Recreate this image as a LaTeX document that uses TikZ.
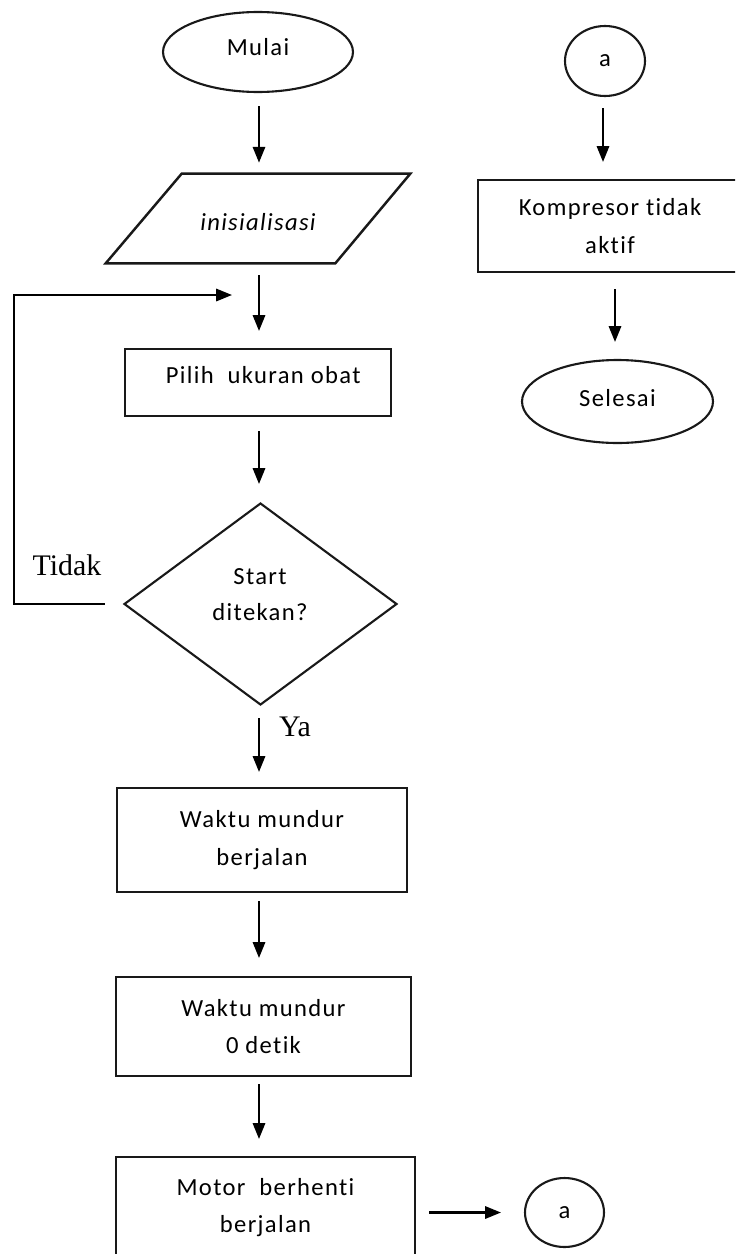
\documentclass[tikz,border=0pt]{standalone}
\usepackage{fontspec}
\setmainfont{Carlito}[LetterSpace=5.5, Ligatures=NoCommon]
\newfontfamily\labelserif{Liberation Serif}
\usetikzlibrary{shapes.geometric,arrows.meta,calc}
\begin{document}
\begin{tikzpicture}[x=0.02cm,y=-0.02cm,
  every node/.style={font=\fontsize{14}{21.5}\selectfont, text=black},
  shapeline/.style={draw=black!90, line width=1.2pt},
  boxnode/.style={shapeline, rectangle, inner sep=0pt, align=center},
  termnode/.style={shapeline, ellipse, inner sep=0pt},
  conn/.style={draw=black, line width=1.2pt, -{Triangle[length=9pt,width=7pt]}},
  lbl/.style={font=\labelserif\fontsize{17}{20}\selectfont, text=black}]
\useasboundingbox (0,0) rectangle (735,1254);
\clip (0,0) rectangle (735,1254);

% helper coordinates for connector columns
\coordinate (col) at (259,0);
\coordinate (colR1) at (603,0);
\coordinate (colR2) at (615,0);
\coordinate (loopx) at (14,0);
\coordinate (loopend) at (232,295);

% left column
\node[termnode, minimum width=3.8cm, minimum height=1.6cm] (mulai) at (258,52)
  {\raisebox{2.8pt}[\height][\depth]{Mulai}};
\node[inner sep=0pt, minimum width=6.08cm, minimum height=1.78cm] (init) at (258,218.5)
  {\raisebox{-2pt}[\height][\depth]{\itshape inisialisasi}};
\draw[shapeline, line width=1.4pt, line join=miter]
  ($(init.north west)+(76,0)$) -- (init.north east) -- ($(init.south east)+(-75,0)$)
  -- (init.south west) -- cycle;
\node[boxnode, minimum width=5.32cm, minimum height=1.34cm] (pilih) at (258,382.5)
  {\hspace*{6pt}\raisebox{4.25pt}[\height][\depth]{Pilih\ \ ukuran obat}};
\node[shapeline, diamond, inner sep=0pt, minimum width=5.46cm, minimum height=4.04cm] (dec) at (260.5,604) {};
\node[align=center, inner sep=0pt, font=\fontsize{14}{20.4}\selectfont] (decT) at (260,595) {Start\\ditekan?};
\node[lbl] (tidak) at (67,565) {Tidak};
\node[lbl] (ya) at (295,727) {Ya};
\node[boxnode, minimum width=5.8cm, minimum height=2.08cm] (b1) at (262,840) {Waktu mundur\\berjalan};
\node[boxnode, minimum width=5.9cm, minimum height=1.98cm] (b2) at (263.5,1026.5) {Waktu mundur\\0 detik};
\node[boxnode, minimum width=5.98cm, minimum height=2.02cm] (b3) at (265.5,1207.5) {Motor\ \ berhenti\\berjalan};
\node[termnode, minimum width=1.58cm, minimum height=1.38cm] (conn2) at (564.5,1212.5) {a};

% right column
\node[termnode, minimum width=1.6cm, minimum height=1.4cm] (ca) at (605,61) {a};
\node[boxnode, minimum width=5.28cm, minimum height=1.84cm] (komp) at (610,226) {Kompresor tidak\\aktif};
\node[termnode, minimum width=3.82cm, minimum height=1.66cm] (selesai) at (617.5,401.5)
  {\raisebox{2pt}[\height][\depth]{Selesai}};

% connectors
\draw[conn, shorten <=0.26cm, shorten >=0.22cm] (mulai.south -| col) -- (init.north -| col);
\draw[conn, shorten <=0.24cm, shorten >=0.34cm] (init.south -| col) -- (pilih.north -| col);
\draw[conn, shorten <=0.28cm, shorten >=0.36cm] (pilih.south -| col) -- (dec.north -| col);
\draw[conn, shorten <=0.24cm, shorten >=0.30cm] (dec.south -| col) -- (b1.north -| col);
\draw[conn, shorten <=0.16cm, shorten >=0.36cm] (b1.south -| col) -- (b2.north -| col);
\draw[conn, shorten <=0.14cm, shorten >=0.34cm] (b2.south -| col) -- (b3.north -| col);
\draw[conn, shorten <=0.26cm, shorten >=0.46cm] (b3.east |- conn2.west) -- (conn2.west);
\draw[conn, shorten <=0.36cm] (dec.west) -- (dec.west -| loopx) |- (loopend);
\draw[conn, shorten <=0.22cm, shorten >=0.34cm] (ca.south -| colR1) -- (komp.north -| colR1);
\draw[conn, shorten <=0.32cm, shorten >=0.34cm] (komp.south -| colR2) -- (selesai.north -| colR2);
\end{tikzpicture}
\end{document}
